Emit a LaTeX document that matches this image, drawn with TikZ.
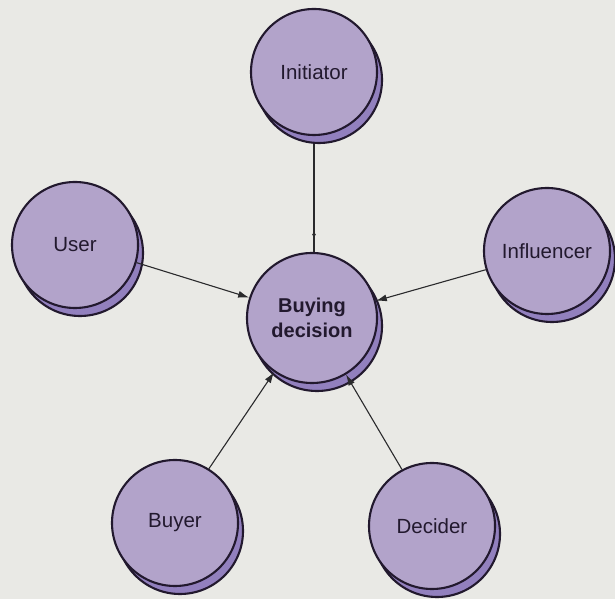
\documentclass[tikz,border=0pt]{standalone}
\usepackage{fontspec}
\setmainfont{Liberation Sans}
\usetikzlibrary{arrows.meta,shadows,decorations.markings}

\definecolor{paper}{HTML}{E9E9E5}
\definecolor{discfill}{HTML}{B2A3CA}
\definecolor{discback}{HTML}{9280BE}
\definecolor{ink}{HTML}{22192E}
\definecolor{wire}{HTML}{2A2A2C}

\tikzset{
  role/.style={circle, draw=ink, line width=2.1pt, fill=discfill,
    minimum size=126pt, inner sep=0pt, text=ink,
    font=\fontsize{20.5}{25}\selectfont, align=center,
    copy shadow={shadow xshift=5pt, shadow yshift=-8pt,
      fill=discback, draw=ink, line width=2.1pt}},
  hub/.style={role, minimum size=130pt, font=\fontsize{20}{25}\selectfont\bfseries},
  conn/.style={draw=wire, line width=1.1pt, -{Latex[length=11pt,width=7pt]}},
  plain/.style={draw=wire, line width=1.1pt}
}

\begin{document}
\begin{tikzpicture}[x=1pt,y=1pt]
  % page background
  \fill[paper] (0,0) rectangle (615,599);
  \useasboundingbox (0,0) rectangle (615,599);

  % the six roles
  \node[hub]  (bd)  at (312,281) {Buying\\decision};
  \node[role] (ini) at (314,527) {Initiator};
  \node[role] (usr) at (75,354)  {User};
  \node[role] (inf) at (547,348) {Influencer};
  \node[role] (buy) at (175,76)  {Buyer};
  \node[role] (dec) at (432,73)  {Decider};

  % connectors into the buying decision
  \draw[plain, postaction={decorate}, decoration={markings,
      mark=at position 0.88 with {\arrow{Latex[length=5pt,width=4pt]}}}]
    ([yshift=-8pt]ini.south) -- (ini.south |- bd.north);
  \draw[conn] (usr.-16) -- (bd.162);
  \draw[conn] (inf.197) -- (bd.15);
  \draw[conn] (buy.58)  -- (bd.235);
  \draw[conn] (dec.118) -- (bd.301);
\end{tikzpicture}
\end{document}
